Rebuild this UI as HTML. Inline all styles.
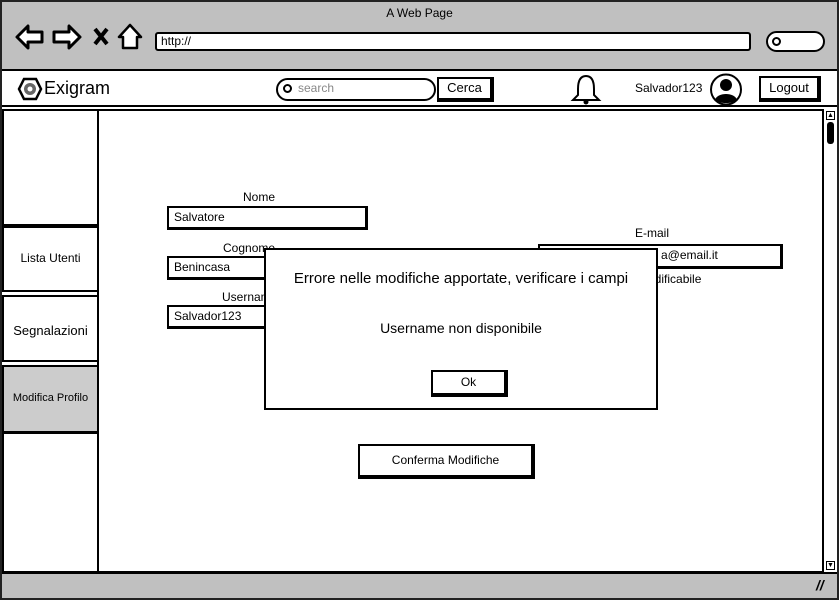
<!DOCTYPE html>
<html><head><meta charset="utf-8"><style>
*{box-sizing:border-box;margin:0;padding:0}
body{width:839px;height:600px;position:relative;overflow:hidden;background:#fff;font-family:"Liberation Sans",sans-serif;color:#000}
.a{position:absolute}
.t{position:absolute;white-space:nowrap;font-size:13px}
.inp{position:absolute;background:#fff;border:2px solid #000;border-right-width:3px;border-bottom-width:3px;font-size:12px;padding:2px 0 0 5px}
.btn{position:absolute;background:#fff;border:2px solid #000;border-right-width:4px;border-bottom-width:4px;font-size:13px;text-align:center}
</style></head><body>
<!-- outer -->
<div class="a" style="left:0;top:0;width:839px;height:600px;border:2px solid #222"></div>
<!-- title bar -->
<div class="a" style="left:2px;top:2px;width:835px;height:68px;background:#c0c0c0"></div>
<div class="t" style="left:0;width:839px;text-align:center;top:6px;font-size:12px">A Web Page</div>
<svg class="a" style="left:14px;top:22px" width="130" height="30" viewBox="0 0 130 30">
<path d="M3 15 L14 4 L14 10 L28 10 L28 20 L14 20 L14 26 Z" fill="#fff" stroke="#000" stroke-width="3" stroke-linejoin="round"/>
<path d="M66 15 L55 4 L55 10 L40 10 L40 20 L55 20 L55 26 Z" fill="#fff" stroke="#000" stroke-width="3" stroke-linejoin="round"/>
<path d="M81 7 L93 22 M93 7 L81 22" stroke="#000" stroke-width="4"/>
<path d="M116 3 L105 15 L109 15 L109 26 L123 26 L123 15 L127 15 Z" fill="#fff" stroke="#000" stroke-width="2.5" stroke-linejoin="round"/>
</svg>
<div class="a" style="left:155px;top:32px;width:596px;height:19px;background:#fff;border:2px solid #000;border-radius:3px;font-size:12px;padding:0 0 0 4px;line-height:15px">http://</div>
<div class="a" style="left:766px;top:31px;width:59px;height:21px;background:#fff;border:2px solid #000;border-radius:11px"></div>
<div class="a" style="left:772px;top:37px;width:9px;height:9px;border:2px solid #000;border-radius:50%"></div>
<!-- header -->
<div class="a" style="left:2px;top:69px;width:835px;height:2px;background:#000"></div>
<div class="a" style="left:2px;top:105px;width:835px;height:2px;background:#000"></div>
<svg class="a" style="left:17px;top:77px" width="26" height="24" viewBox="0 0 26 24"><path d="M7 2 L19 2 L24 12 L19 22 L7 22 L2 12 Z" fill="#fff" stroke="#000" stroke-width="2.5"/><circle cx="13" cy="12" r="6" fill="#666"/><circle cx="13" cy="12" r="2.5" fill="#fff"/></svg>
<div class="t" style="left:44px;top:78px;font-size:18px">Exigram</div>
<div class="a" style="left:276px;top:78px;width:160px;height:23px;border:2px solid #000;border-radius:12px;background:#fff"></div>
<div class="a" style="left:283px;top:84px;width:9px;height:9px;border:2px solid #000;border-radius:50%"></div>
<div class="t" style="left:298px;top:81px;font-size:12px;color:#888">search</div>
<div class="btn" style="left:437px;top:77px;width:57px;height:25px;line-height:18px">Cerca</div>
<svg class="a" style="left:570px;top:73px" width="32" height="33" viewBox="0 0 32 33"><path d="M16 3 C9 3 8 10 8 16 L8 22 L3 27 L29 27 L24 22 L24 16 C24 10 23 3 16 3 Z" fill="#fff" stroke="#000" stroke-width="2"/><circle cx="16" cy="29" r="2.5" fill="#000"/></svg>
<div class="t" style="left:635px;top:81px;font-size:12px">Salvador123</div>
<svg class="a" style="left:709px;top:73px" width="34" height="33" viewBox="0 0 34 33"><circle cx="17" cy="16.5" r="15" fill="#fff" stroke="#000" stroke-width="2"/><circle cx="17" cy="12" r="6" fill="#000"/><path d="M6 27 C8 19 26 19 28 27 C24 31 10 31 6 27 Z" fill="#000"/></svg>
<div class="btn" style="left:759px;top:76px;width:62px;height:26px;line-height:20px">Logout</div>
<!-- sidebar -->
<div class="a" style="left:2px;top:109px;width:97px;height:117px;border:2px solid #000"></div>
<div class="a" style="left:2px;top:226px;width:97px;height:66px;border:2px solid #000"></div>
<div class="t" style="left:2px;width:97px;text-align:center;top:251px;font-size:12px">Lista Utenti</div>
<div class="a" style="left:2px;top:295px;width:97px;height:67px;border:2px solid #000"></div>
<div class="t" style="left:2px;width:97px;text-align:center;top:323px;font-size:13px">Segnalazioni</div>
<div class="a" style="left:2px;top:365px;width:97px;height:68px;border:2px solid #000;background:#cccccc"></div>
<div class="t" style="left:2px;width:97px;text-align:center;top:392px;font-size:11px">Modifica Profilo</div>
<div class="a" style="left:2px;top:432px;width:97px;height:141px;border:2px solid #000"></div>
<!-- main -->
<div class="a" style="left:97px;top:109px;width:727px;height:464px;border:2px solid #000"></div>
<div class="a" style="left:823px;top:109px;width:14px;height:464px;border-left:1px solid #000;background:#fff"></div>
<div class="a" style="left:826px;top:111px;width:9px;height:9px;border:1px solid #000;font-size:7px;line-height:7px;text-align:center">▲</div>
<div class="a" style="left:827px;top:122px;width:7px;height:22px;background:#000;border-radius:3px"></div>
<div class="a" style="left:826px;top:561px;width:9px;height:9px;border:1px solid #000;font-size:7px;line-height:7px;text-align:center">▼</div>
<!-- bottom -->
<div class="a" style="left:2px;top:572px;width:835px;height:26px;background:#c0c0c0;border-top:2px solid #000"></div>
<div class="t" style="left:816px;top:577px;font-size:14px;font-weight:bold;font-style:italic">//</div>
<!-- form -->
<div class="t" style="left:243px;top:190px;font-size:12px">Nome</div>
<div class="inp" style="left:167px;top:206px;width:201px;height:24px">Salvatore</div>
<div class="t" style="left:223px;top:241px;font-size:12px">Cognome</div>
<div class="inp" style="left:167px;top:256px;width:201px;height:24px">Benincasa</div>
<div class="t" style="left:222px;top:290px;font-size:12px">Username</div>
<div class="inp" style="left:167px;top:305px;width:201px;height:24px">Salvador123</div>
<div class="t" style="left:635px;top:226px;font-size:12px">E-mail</div>
<div class="inp" style="left:538px;top:244px;width:245px;height:25px;padding-left:121px">a@email.it</div>
<div class="t" style="left:648px;top:272px;font-size:12px">odificabile</div>
<!-- dialog -->
<div class="a" style="left:264px;top:248px;width:394px;height:162px;background:#fff;border:2px solid #000"></div>
<div class="t" style="left:264px;width:394px;text-align:center;top:270px;font-size:15px">Errore nelle modifiche apportate, verificare i campi</div>
<div class="t" style="left:264px;width:394px;text-align:center;top:320px;font-size:14px">Username non disponibile</div>
<div class="btn" style="left:431px;top:370px;width:77px;height:27px;line-height:21px;font-size:12px">Ok</div>
<div class="btn" style="left:358px;top:444px;width:177px;height:35px;line-height:29px;font-size:12px">Conferma Modifiche</div>
</body></html>
